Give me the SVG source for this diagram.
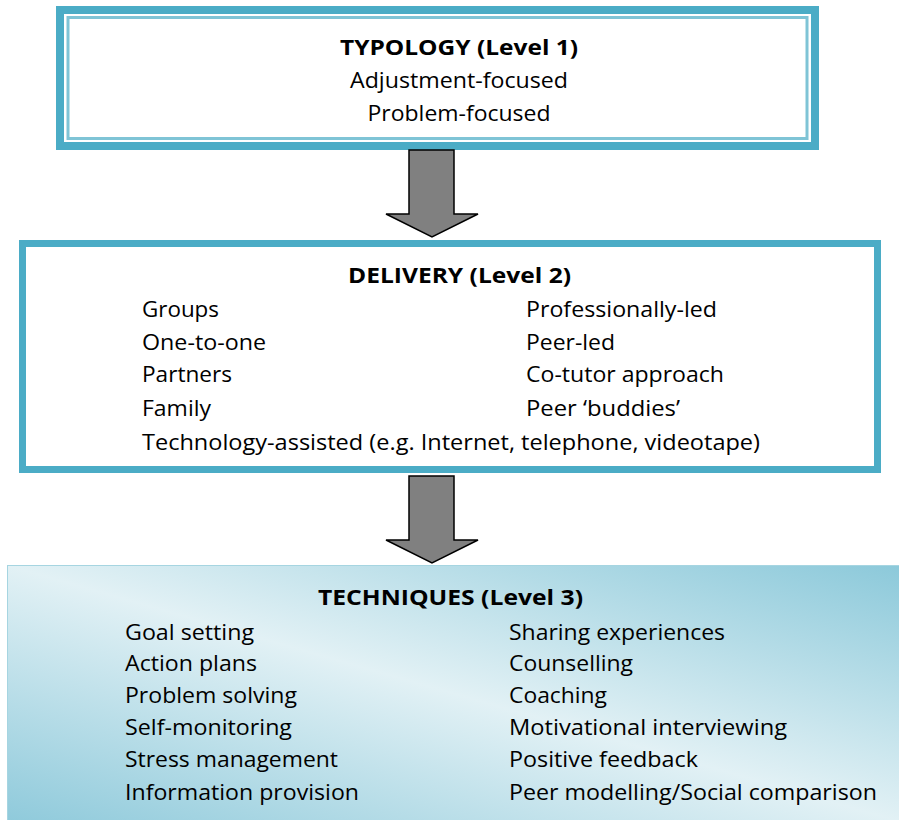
<svg xmlns="http://www.w3.org/2000/svg" width="899" height="820" viewBox="0 0 899 820">
<style>
text{font-family:"Open Sans","Liberation Sans",sans-serif;font-size:22px;fill:#000}
.t{font-weight:bold;text-anchor:middle;font-size:22px}
.c{text-anchor:middle}
.arrow{fill:#808080;stroke:#000;stroke-width:1.5;stroke-linejoin:miter}
</style>
<defs>
<linearGradient id="g" x1="0" y1="1" x2="1" y2="0">
<stop offset="0" stop-color="#8fcadb"/>
<stop offset="0.5" stop-color="#e2f1f5"/>
<stop offset="1" stop-color="#8cc9da"/>
</linearGradient>
</defs>
<rect width="899" height="820" fill="#fff"/>
<g id="typology">
<rect x="60" y="10" width="755" height="136" fill="#fff" stroke="#4bacc6" stroke-width="8"/>
<rect x="68" y="17.5" width="739" height="121" fill="none" stroke="#7fc4d6" stroke-width="3"/>
<text class="t" x="459" y="55" textLength="238" lengthAdjust="spacingAndGlyphs">TYPOLOGY (Level 1)</text>
<text class="c" x="459" y="88" textLength="218" lengthAdjust="spacingAndGlyphs">Adjustment-focused</text>
<text class="c" x="459" y="121" textLength="183" lengthAdjust="spacingAndGlyphs">Problem-focused</text>
</g>
<g id="delivery">
<rect x="22.5" y="243.5" width="855" height="226" fill="#fff" stroke="#4bacc6" stroke-width="7"/>
<text class="t" x="459.5" y="283" textLength="223" lengthAdjust="spacingAndGlyphs">DELIVERY (Level 2)</text>
<text x="142" y="317" textLength="77" lengthAdjust="spacingAndGlyphs">Groups</text>
<text x="142" y="350" textLength="124" lengthAdjust="spacingAndGlyphs">One-to-one</text>
<text x="142" y="382" textLength="90" lengthAdjust="spacingAndGlyphs">Partners</text>
<text x="142" y="416" textLength="69" lengthAdjust="spacingAndGlyphs">Family</text>
<text x="142" y="450" textLength="618" lengthAdjust="spacingAndGlyphs">Technology-assisted (e.g. Internet, telephone, videotape)</text>
<text x="526" y="317" textLength="191" lengthAdjust="spacingAndGlyphs">Professionally-led</text>
<text x="526" y="350" textLength="89" lengthAdjust="spacingAndGlyphs">Peer-led</text>
<text x="526" y="382" textLength="198" lengthAdjust="spacingAndGlyphs">Co-tutor approach</text>
<text x="526" y="416" textLength="154" lengthAdjust="spacingAndGlyphs">Peer ‘buddies’</text>
</g>
<g id="techniques">
<rect x="7.5" y="565.5" width="892" height="256" fill="url(#g)" stroke="#a6d5e1" stroke-width="1"/>
<text class="t" x="450.5" y="605" textLength="265" lengthAdjust="spacingAndGlyphs">TECHNIQUES (Level 3)</text>
<text x="125" y="640" textLength="129" lengthAdjust="spacingAndGlyphs">Goal setting</text>
<text x="125" y="671" textLength="132" lengthAdjust="spacingAndGlyphs">Action plans</text>
<text x="125" y="703" textLength="172" lengthAdjust="spacingAndGlyphs">Problem solving</text>
<text x="125" y="735" textLength="167" lengthAdjust="spacingAndGlyphs">Self-monitoring</text>
<text x="125" y="767" textLength="213" lengthAdjust="spacingAndGlyphs">Stress management</text>
<text x="125" y="800" textLength="234" lengthAdjust="spacingAndGlyphs">Information provision</text>
<text x="509" y="640" textLength="216" lengthAdjust="spacingAndGlyphs">Sharing experiences</text>
<text x="509" y="671" textLength="124" lengthAdjust="spacingAndGlyphs">Counselling</text>
<text x="509" y="703" textLength="98" lengthAdjust="spacingAndGlyphs">Coaching</text>
<text x="509" y="735" textLength="278" lengthAdjust="spacingAndGlyphs">Motivational interviewing</text>
<text x="509" y="767" textLength="189" lengthAdjust="spacingAndGlyphs">Positive feedback</text>
<text x="509" y="800" textLength="368" lengthAdjust="spacingAndGlyphs">Peer modelling/Social comparison</text>
</g>
<g id="connectors">
<polygon class="arrow" points="409,150 454,150 454,214 478,214 432,237 386,214 409,214"/>
<polygon class="arrow" points="409,476 454,476 454,540 478,540 432,563 386,540 409,540"/>
</g>
</svg>
